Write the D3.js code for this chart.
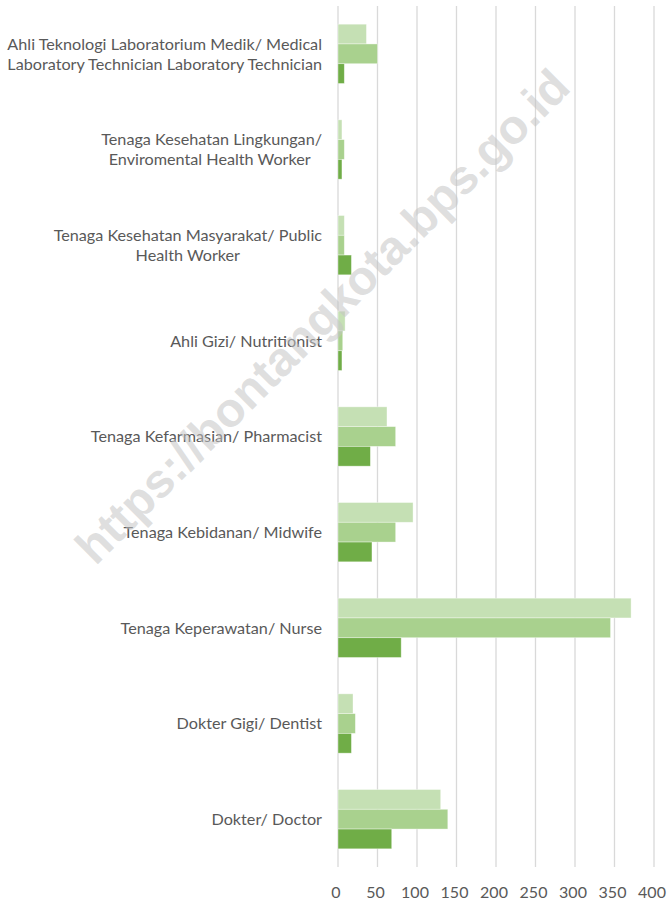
<!DOCTYPE html>
<html>
<head>
<meta charset="utf-8">
<script src="https://cdn.jsdelivr.net/npm/d3@7"></script>
<style>
  body {
    margin: 0;
    background: #fff;
    font-family: Lato, 'Open Sans', sans-serif;
  }
  svg { display: block; }
  .cat-label { fill: #595959; font-size: 16.2px; }
  .tick-label { fill: #595959; font-size: 16px; }
  .grid { stroke: #d9d9d9; stroke-width: 1.3; }
  .watermark {
    font-family: 'Liberation Sans', Arial, sans-serif;
    font-weight: bold;
    font-size: 48px;
    fill: #c4c4c4;
    fill-opacity: 0.55;
  }
</style>
</head>
<body>
<div id="chart"></div>
<script>
// categories, bottom -> top as in the source sheet; "\n" = line break in label
const categories = [
  'Dokter/ Doctor',
  'Dokter Gigi/ Dentist',
  'Tenaga Keperawatan/ Nurse',
  'Tenaga Kebidanan/ Midwife',
  'Tenaga Kefarmasian/ Pharmacist',
  'Ahli Gizi/ Nutritionist',
  'Tenaga Kesehatan Masyarakat/ Public\nHealth Worker',
  'Tenaga Kesehatan Lingkungan/\nEnviromental Health Worker ',
  'Ahli Teknologi Laboratorium Medik/ Medical\nLaboratory Technician Laboratory Technician'
];

// three series, one value per category (same order as categories)
const seriesDark   = [68, 17, 80, 43, 41, 5, 17, 5, 8];
const seriesMedium = [139, 22, 345, 73, 73, 6, 8, 8, 50];
const seriesLight  = [130, 19, 371, 95, 62, 9, 8, 5, 36];

const xTicks = [0, 50, 100, 150, 200, 250, 300, 350, 400];
const watermarkText = 'https://bontangkota.bps.go.id';

const series = [
  { key: 'light', values: seriesLight, color: '#c5e0b4' },
  { key: 'medium', values: seriesMedium, color: '#a9d18e' },
  { key: 'dark', values: seriesDark, color: '#70ad47' }
];

const W = 667, H = 903;
const plot = { left: 338, right: 654, top: 6, bottom: 867 };

const svg = d3.select('#chart').append('svg')
  .attr('width', W)
  .attr('height', H);

const x = d3.scaleLinear()
  .domain([0, 400])
  .range([plot.left, plot.right]);

// top of chart shows last category
const y = d3.scaleBand()
  .domain(categories.slice().reverse())
  .range([plot.top, plot.bottom])
  .paddingInner(0.38)
  .paddingOuter(0.19);

const ySub = d3.scaleBand()
  .domain(series.map(s => s.key))
  .range([0, y.bandwidth()]);

// gridlines
svg.append('g')
  .selectAll('line')
  .data(xTicks)
  .join('line')
  .attr('class', 'grid')
  .attr('x1', d => x(d)).attr('x2', d => x(d))
  .attr('y1', plot.top).attr('y2', plot.bottom);

// bars
const rows = categories.map((c, i) => ({ cat: c, i }));
svg.append('g')
  .selectAll('g')
  .data(series)
  .join('g')
  .attr('fill', s => s.color)
  .selectAll('rect')
  .data(s => rows.map(r => ({ cat: r.cat, key: s.key, value: s.values[r.i] })))
  .join('rect')
  .attr('x', x(0))
  .attr('y', d => y(d.cat) + ySub(d.key))
  .attr('width', d => x(d.value) - x(0))
  .attr('height', ySub.bandwidth())
  .attr('stroke', '#fff')
  .attr('stroke-opacity', 0.5)
  .attr('stroke-width', 0.75);

// category labels (multi-line ones centred on each other, block right-aligned)
const labelRight = 322;
const lineGap = 20;
const labels = svg.append('g');
categories.forEach(c => {
  const lines = c.split('\n');
  const g = labels.append('g');
  const texts = lines.map((ln, k) => g.append('text')
    .attr('class', 'cat-label')
    .attr('xml:space', 'preserve')
    .attr('y', y(c) + y.bandwidth() / 2 + (k - (lines.length - 1) / 2) * lineGap)
    .attr('dy', '0.35em')
    .text(ln));
  const maxW = d3.max(texts, t => t.node().getComputedTextLength());
  texts.forEach(t => t
    .attr('text-anchor', 'middle')
    .attr('x', labelRight - maxW / 2));
});

// x tick labels (sit a little left of their gridline, as in the original)
svg.append('g')
  .selectAll('text')
  .data(xTicks)
  .join('text')
  .attr('class', 'tick-label')
  .attr('x', d => x(d))
  .attr('dx', -2)
  .attr('y', 892)
  .attr('dy', '0.35em')
  .attr('text-anchor', 'middle')
  .text(d => d);

// watermark on top
svg.append('text')
  .attr('class', 'watermark')
  .attr('text-anchor', 'middle')
  .attr('transform', 'translate(334,328) rotate(-45)')
  .text(watermarkText);
</script>
</body>
</html>
